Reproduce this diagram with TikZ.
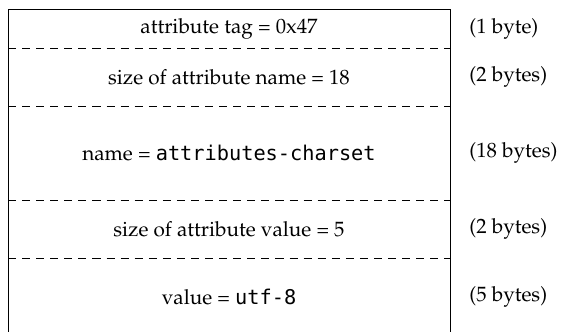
\documentclass[tikz,border=0pt]{standalone}
\usepackage{fontspec}
\newfontfamily\codefont[Scale=0.98]{DejaVu Sans Mono}
\usepackage[T1]{fontenc}
\usepackage{mathpazo}
\usetikzlibrary{positioning}

\begin{document}
\begin{tikzpicture}[x=0.483pt, y=-0.483pt,
    field/.style={inner sep=0pt},
    bytes/.style={anchor=west, inner sep=0pt},
    sep/.style={dash pattern=on 3.9pt off 2.9pt}]
    \useasboundingbox (0,0) rectangle (561,331);
    \coordinate (TL) at (8,9);
    \coordinate (TR) at (450,9);
    \coordinate (BL) at (8,340);
    \coordinate (BR) at (450,340);

    % frame (open at the bottom)
    \draw[thin] (BL) -- (TL) -- (TR) -- (BR);
    \foreach \y in {48,106,200,258}{
        \draw[sep] (8,\y) -- (450,\y);
    }

    % fields
    \node[field] (tag)   at (229,28.5) {attribute tag = 0x47};
    \node[field] (nlen)  at (229,77)   {size of attribute name = 18};
    \node[field] (name)  at (229,153)  {name = {\codefont attributes-charset}};
    \node[field] (vlen)  at (229,229)  {size of attribute value = 5};
    \node[field] (value) at (229,297)  {value = {\codefont utf-8}};

    % sizes
    \node[bytes] (tagB)   at (469,28.5) {(1 byte)};
    \node[bytes] (nlenB)  at (469,77)   {(2 bytes)};
    \node[bytes] (nameB)  at (469,153)  {(18 bytes)};
    \node[bytes] (vlenB)  at (469,229)  {(2 bytes)};
    \node[bytes] (valueB) at (469,297)  {(5 bytes)};
\end{tikzpicture}
\end{document}
